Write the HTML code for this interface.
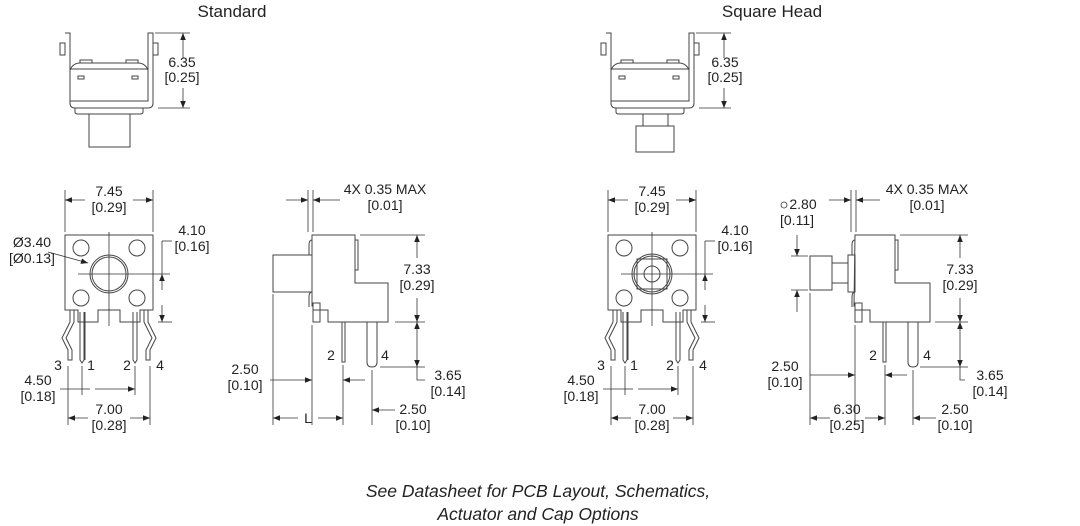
<!DOCTYPE html>
<html><head><meta charset="utf-8"><style>
html,body{margin:0;padding:0;background:#fff;}
svg{display:block}
text{font-family:"Liberation Sans",sans-serif;font-size:14px;fill:#222;}
.t{font-size:17px;}
.i{font-style:italic;font-size:17.5px;}
.l{stroke:#444;stroke-width:1;fill:none;}
.d{stroke:#333;stroke-width:0.8;fill:none;}
</style></head><body>
<svg width="1080" height="526" viewBox="0 0 1080 526" xmlns="http://www.w3.org/2000/svg">
<defs>
<marker id="a" viewBox="0 0 10 10" refX="10" refY="5" markerWidth="9" markerHeight="7" orient="auto-start-reverse" markerUnits="userSpaceOnUse"><path d="M0,1 L10,5 L0,9z" fill="#222"/></marker>
</defs>
<text class="t" x="232" y="17" text-anchor="middle">Standard</text>
<text class="t" x="772" y="17" text-anchor="middle">Square Head</text>

<!-- ===== TOP VIEWS ===== -->
<g id="top">
<path class="l" d="M65,33 h5 v70 q0,5 5,5 h73 q5,0 5,-5 v-70 h-5 v68 h-78 v-68"/>
<rect class="l" x="60" y="43" width="5" height="12"/>
<rect class="l" x="153" y="43" width="5" height="12"/>
<path class="l" d="M70,70 q3,-7 10,-7 h58 q7,0 10,7"/>
<path class="l" d="M70,69 h78"/>
<path class="l" d="M80,63 v-3 h12 v3 M126,63 v-3 h12 v3"/>
<rect class="l" x="78" y="76" width="6" height="3"/>
<rect class="l" x="132" y="76" width="6" height="3"/>
<path class="l" d="M75,108 v4 q0,2 3,2 h62 q3,0 3,-2 v-4"/>
<line class="d" x1="155" y1="33" x2="190" y2="33"/>
<line class="d" x1="158" y1="108" x2="190" y2="108"/>
</g>
<rect class="l" x="89" y="114" width="41" height="33"/>
<line class="d" x1="183" y1="58" x2="183" y2="33" marker-end="url(#a)"/>
<line class="d" x1="183" y1="88" x2="183" y2="108" marker-end="url(#a)"/>
<text x="182" y="67" text-anchor="middle">6.35</text>
<text x="182" y="82" text-anchor="middle">[0.25]</text>

<use href="#top" x="541" y="0"/>
<rect class="l" x="643" y="114" width="25" height="12"/>
<rect class="l" x="636" y="126" width="38" height="26"/>
<line class="d" x1="724" y1="58" x2="724" y2="33" marker-end="url(#a)"/>
<line class="d" x1="724" y1="88" x2="724" y2="108" marker-end="url(#a)"/>
<text x="725" y="67" text-anchor="middle">6.35</text>
<text x="725" y="82" text-anchor="middle">[0.25]</text>

<!-- ===== FRONT VIEWS ===== -->
<g id="front">
<path class="l" d="M65,235 h88 v75 h-13 v12 h-20 v-12 h-22 v12 h-20 v-12 h-13 z"/>
<path class="l" d="M65,235 v75"/>
<circle class="l" cx="81" cy="248" r="8"/>
<circle class="l" cx="137" cy="248" r="8"/>
<circle class="l" cx="81" cy="298" r="8"/>
<circle class="l" cx="137" cy="298" r="8"/>
<line class="d" x1="109" y1="232" x2="109" y2="326"/>
<line class="d" x1="78" y1="274" x2="170" y2="274"/>
<path class="l" d="M70,310 v12 l-8,16 l6,12 v10 h4 v-10 l-6,-12 l8,-16 v-12 M80,312 v48 l2,3 l2,-3 v-48 M85,312 v48"/>
<path class="l" d="M148,310 v12 l8,16 l-6,12 v10 h-4 v-10 l6,-12 l-8,-16 v-12 M133,312 v48 l2,3 l2,-3 v-48"/>
<text x="58" y="370" text-anchor="middle">3</text>
<text x="91" y="370" text-anchor="middle">1</text>
<text x="127" y="370" text-anchor="middle">2</text>
<text x="160" y="370" text-anchor="middle">4</text>
<line class="d" x1="65" y1="190" x2="65" y2="232"/>
<line class="d" x1="153" y1="190" x2="153" y2="232"/>
<line class="d" x1="85" y1="200" x2="65" y2="200" marker-end="url(#a)"/>
<line class="d" x1="133" y1="200" x2="153" y2="200" marker-end="url(#a)"/>
<text x="109" y="196" text-anchor="middle">7.45</text>
<text x="109" y="212" text-anchor="middle">[0.29]</text>
<line class="d" x1="162" y1="241" x2="172" y2="241"/>
<line class="d" x1="158" y1="322" x2="172" y2="322"/>
<line class="d" x1="162" y1="241" x2="162" y2="274"/>
<line class="d" x1="162" y1="290" x2="162" y2="274" marker-end="url(#a)"/>
<line class="d" x1="162" y1="305" x2="162" y2="322" marker-end="url(#a)"/>
<text x="192" y="235" text-anchor="middle">4.10</text>
<text x="192" y="251" text-anchor="middle">[0.16]</text>
<line class="d" x1="68" y1="366" x2="68" y2="425"/>
<line class="d" x1="82" y1="366" x2="82" y2="395"/>
<line class="d" x1="135" y1="366" x2="135" y2="395"/>
<line class="d" x1="150" y1="366" x2="150" y2="425"/>
<line class="d" x1="60" y1="389" x2="82" y2="389"/>
<line class="d" x1="95" y1="389" x2="135" y2="389" marker-end="url(#a)"/>
<line class="d" x1="90" y1="389" x2="82" y2="389"/>
<text x="38" y="385" text-anchor="middle">4.50</text>
<text x="38" y="401" text-anchor="middle">[0.18]</text>
<line class="d" x1="88" y1="418" x2="68" y2="418" marker-end="url(#a)"/>
<line class="d" x1="130" y1="418" x2="150" y2="418" marker-end="url(#a)"/>
<text x="109" y="414" text-anchor="middle">7.00</text>
<text x="109" y="430" text-anchor="middle">[0.28]</text>
</g>
<circle class="l" cx="109" cy="274" r="19"/>
<circle class="l" cx="109" cy="274" r="17"/>
<text x="32" y="247" text-anchor="middle">Ø3.40</text>
<text x="32" y="263" text-anchor="middle">[Ø0.13]</text>
<line class="d" x1="48" y1="252" x2="88" y2="263" marker-end="url(#a)"/>

<use href="#front" x="543" y="0"/>
<circle class="l" cx="652" cy="274" r="20"/>
<circle class="l" cx="652" cy="274" r="18"/>
<rect class="l" x="637" y="259" width="30" height="30"/>
<circle class="l" cx="652" cy="274" r="8"/>

<!-- ===== SIDE VIEW STANDARD ===== -->
<path class="l" d="M312,235 h43 v48 h33 v39 h-60 v-12 h-15 v-4 h-1 z"/>
<path class="l" d="M355,240 h3 v30 h-3"/>
<path class="l" d="M312,240 q-3,0 -3,5 v10 M312,292 q-3,0 -3,5 v10"/>
<rect class="l" x="273" y="255" width="39" height="37"/>
<rect class="l" x="313" y="303" width="7" height="19"/>
<path class="l" d="M342,322 v40 h3 v-40"/>
<path class="l" d="M367,322 v40 q0,5 5,5 q5,0 5,-5 v-40"/>
<text x="331" y="360" text-anchor="middle">2</text>
<text x="385" y="360" text-anchor="middle">4</text>
<line class="d" x1="308" y1="190" x2="308" y2="232"/>
<line class="d" x1="313" y1="190" x2="313" y2="232"/>
<line class="d" x1="286" y1="200" x2="308" y2="200" marker-end="url(#a)"/>
<line class="d" x1="340" y1="200" x2="313" y2="200" marker-end="url(#a)"/>
<text x="385" y="194" text-anchor="middle">4X 0.35 MAX</text>
<text x="385" y="210" text-anchor="middle">[0.01]</text>
<line class="d" x1="360" y1="235" x2="425" y2="235"/>
<line class="d" x1="395" y1="322" x2="425" y2="322"/>
<line class="d" x1="380" y1="367" x2="425" y2="367"/>
<line class="d" x1="417" y1="258" x2="417" y2="235" marker-end="url(#a)"/>
<line class="d" x1="417" y1="298" x2="417" y2="322" marker-end="url(#a)"/>
<line class="d" x1="417" y1="345" x2="417" y2="322" marker-end="url(#a)"/>
<line class="d" x1="417" y1="345" x2="417" y2="367" marker-end="url(#a)"/>
<path class="d" d="M417,367 v13 h8"/>
<text x="417" y="274" text-anchor="middle">7.33</text>
<text x="417" y="290" text-anchor="middle">[0.29]</text>
<text x="448" y="380" text-anchor="middle">3.65</text>
<text x="448" y="396" text-anchor="middle">[0.14]</text>
<line class="d" x1="273" y1="294" x2="273" y2="425"/>
<line class="d" x1="312" y1="325" x2="312" y2="425"/>
<line class="d" x1="343" y1="365" x2="343" y2="425"/>
<line class="d" x1="372" y1="370" x2="372" y2="425"/>
<line class="d" x1="270" y1="380" x2="312" y2="380" marker-end="url(#a)"/>
<line class="d" x1="365" y1="380" x2="343" y2="380" marker-end="url(#a)"/>
<text x="245" y="374" text-anchor="middle">2.50</text>
<text x="245" y="390" text-anchor="middle">[0.10]</text>
<line class="d" x1="298" y1="418" x2="273" y2="418" marker-end="url(#a)"/>
<line class="d" x1="318" y1="418" x2="343" y2="418" marker-end="url(#a)"/>
<text x="308" y="423" text-anchor="middle">L</text>
<line class="d" x1="395" y1="410" x2="372" y2="410" marker-end="url(#a)"/>
<text x="413" y="414" text-anchor="middle">2.50</text>
<text x="413" y="430" text-anchor="middle">[0.10]</text>

<!-- ===== SIDE VIEW SQUARE ===== -->
<path class="l" d="M855,235 h40 v48 h35 v39 h-60 v-12 h-15 v-4 h-1 z"/>
<path class="l" d="M895,240 h3 v30 h-3"/>
<path class="l" d="M855,240 q-3,0 -3,5 v10 M855,292 q-3,0 -3,5 v10"/>
<rect class="l" x="848" y="255" width="7" height="37"/>
<rect class="l" x="832" y="263" width="16" height="20"/>
<rect class="l" x="810" y="256" width="22" height="34"/>
<rect class="l" x="855" y="303" width="7" height="19"/>
<path class="l" d="M883,322 v40 h3 v-40"/>
<path class="l" d="M908,322 v40 q0,5 5,5 q5,0 5,-5 v-40"/>
<text x="873" y="360" text-anchor="middle">2</text>
<text x="927" y="360" text-anchor="middle">4</text>
<line class="d" x1="851" y1="190" x2="851" y2="232"/>
<line class="d" x1="856" y1="190" x2="856" y2="232"/>
<line class="d" x1="829" y1="200" x2="851" y2="200" marker-end="url(#a)"/>
<line class="d" x1="880" y1="200" x2="856" y2="200" marker-end="url(#a)"/>
<text x="927" y="194" text-anchor="middle">4X 0.35 MAX</text>
<text x="927" y="210" text-anchor="middle">[0.01]</text>
<circle class="d" cx="784" cy="205" r="3"/>
<text x="803" y="209" text-anchor="middle">2.80</text>
<text x="797" y="225" text-anchor="middle">[0.11]</text>
<line class="d" x1="797" y1="235" x2="797" y2="256" marker-end="url(#a)"/>
<line class="d" x1="797" y1="312" x2="797" y2="290" marker-end="url(#a)"/>
<line class="d" x1="791" y1="256" x2="808" y2="256"/>
<line class="d" x1="791" y1="290" x2="808" y2="290"/>
<line class="d" x1="900" y1="235" x2="968" y2="235"/>
<line class="d" x1="935" y1="322" x2="968" y2="322"/>
<line class="d" x1="920" y1="367" x2="968" y2="367"/>
<line class="d" x1="960" y1="258" x2="960" y2="235" marker-end="url(#a)"/>
<line class="d" x1="960" y1="298" x2="960" y2="322" marker-end="url(#a)"/>
<line class="d" x1="960" y1="345" x2="960" y2="322" marker-end="url(#a)"/>
<line class="d" x1="960" y1="345" x2="960" y2="367" marker-end="url(#a)"/>
<path class="d" d="M960,367 v13 h5"/>
<text x="960" y="274" text-anchor="middle">7.33</text>
<text x="960" y="290" text-anchor="middle">[0.29]</text>
<text x="990" y="380" text-anchor="middle">3.65</text>
<text x="990" y="396" text-anchor="middle">[0.14]</text>
<line class="d" x1="810" y1="293" x2="810" y2="425"/>
<line class="d" x1="855" y1="325" x2="855" y2="425"/>
<line class="d" x1="885" y1="365" x2="885" y2="425"/>
<line class="d" x1="913" y1="370" x2="913" y2="425"/>
<line class="d" x1="810" y1="375" x2="855" y2="375" marker-end="url(#a)"/>
<line class="d" x1="907" y1="375" x2="885" y2="375" marker-end="url(#a)"/>
<text x="785" y="371" text-anchor="middle">2.50</text>
<text x="785" y="387" text-anchor="middle">[0.10]</text>
<line class="d" x1="830" y1="418" x2="810" y2="418" marker-end="url(#a)"/>
<line class="d" x1="865" y1="418" x2="885" y2="418" marker-end="url(#a)"/>
<text x="847" y="414" text-anchor="middle">6.30</text>
<text x="847" y="430" text-anchor="middle">[0.25]</text>
<line class="d" x1="936" y1="418" x2="913" y2="418" marker-end="url(#a)"/>
<text x="955" y="414" text-anchor="middle">2.50</text>
<text x="955" y="430" text-anchor="middle">[0.10]</text>

<text class="i" x="538" y="497" text-anchor="middle">See Datasheet for PCB Layout, Schematics,</text>
<text class="i" x="538" y="520" text-anchor="middle">Actuator and Cap Options</text>
</svg>
</body></html>
